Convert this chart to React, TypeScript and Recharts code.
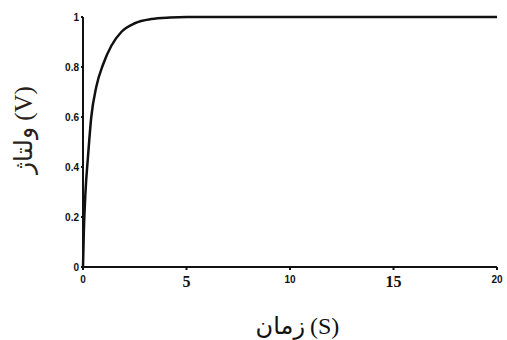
import { LineChart, Line, XAxis, YAxis, Label } from "recharts";

const times = [0, 0.04, 0.12, 0.24, 0.4, 0.64, 0.97, 1.37, 1.85, 2.5, 3.3, 4.2, 5, 10, 15, 20];
const volts = [0, 0.14, 0.3, 0.44, 0.6, 0.72, 0.81, 0.885, 0.94, 0.975, 0.992, 0.998, 1, 1, 1, 1];
const xTicks = [0, 5, 10, 15, 20];
const yTicks = [0, 0.2, 0.4, 0.6, 0.8, 1];

const data = times.map((t, i) => ({ t, v: volts[i] }));

// the scanned figure has 5 and 15 printed larger, in a serif face
const XTick = (props: any) => {
  const { x, y, payload } = props;
  const big = payload.value === 5 || payload.value === 15;
  return (
    <text
      x={x}
      y={y}
      dy={big ? 14 : 10}
      textAnchor="middle"
      fill="#111"
      fontWeight="bold"
      fontSize={big ? 16 : 10}
      fontFamily={big ? "Liberation Serif, serif" : "Liberation Sans, Arial, sans-serif"}
    >
      {payload.value}
    </text>
  );
};

const labelFont = "Liberation Serif, DejaVu Sans, serif";

export default function App() {
  return (
    <div style={{ position: "absolute", left: 0, top: 0, background: "#fff" }}>
      <LineChart
        width={507}
        height={340}
        data={data}
        margin={{ top: 17, right: 10, left: 0, bottom: 0 }}
      >
        <XAxis
          dataKey="t"
          type="number"
          domain={[0, 20]}
          ticks={xTicks}
          height={73}
          tickSize={3}
          tickMargin={3}
          tick={<XTick />}
          stroke="#111"
          strokeWidth={2}
        >
          <Label
            content={() => (
              <g fill="#111" fontSize={24} fontFamily={labelFont}>
                <text x={305} y={334} textAnchor="end">زمان</text>
                <text x={310} y={334} textAnchor="start">(S)</text>
              </g>
            )}
          />
        </XAxis>
        <YAxis
          type="number"
          domain={[0, 1]}
          ticks={yTicks}
          width={83}
          tickSize={2}
          tickMargin={2}
          stroke="#111"
          strokeWidth={2}
          tick={{
            fill: "#111",
            fontSize: 10,
            fontWeight: "bold",
            fontFamily: "Liberation Sans, Arial, sans-serif",
          }}
        >
          <Label
            content={() => (
              <text
                x={32}
                y={130}
                transform="rotate(-90 32 130)"
                textAnchor="middle"
                fontSize={25}
                fill="#2a1f1a"
                fontFamily={labelFont}
              >
                ولتاژ (V)
              </text>
            )}
          />
        </YAxis>
        <Line
          type="monotone"
          dataKey="v"
          stroke="#111"
          strokeWidth={2.5}
          dot={false}
          isAnimationActive={false}
        />
      </LineChart>
    </div>
  );
}
